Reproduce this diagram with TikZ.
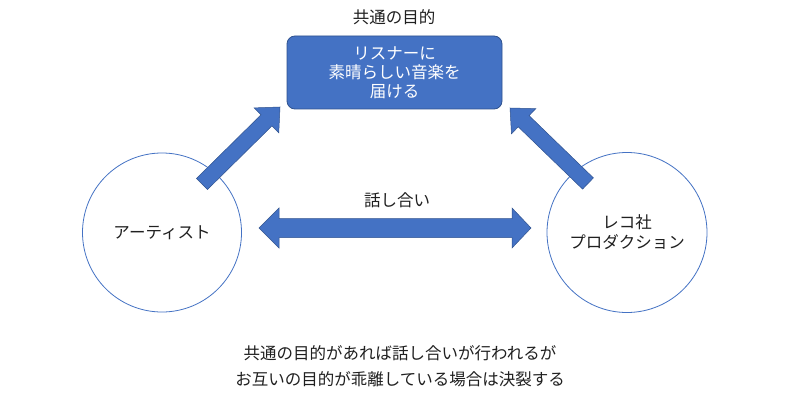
\documentclass[tikz,border=0pt]{standalone}
\usepackage{fontspec}
\setmainfont{Noto Sans CJK JP}
\usetikzlibrary{calc}
\definecolor{fillblue}{HTML}{4472C4}
\definecolor{edgeblue}{HTML}{2F528F}
\definecolor{txt}{HTML}{202020}
\tikzset{
  goalbox/.style={draw=edgeblue, fill=fillblue, line width=0.8pt, rounded corners=8pt,
    minimum width=215pt, minimum height=73pt, inner sep=0pt, text=white, align=center,
    font=\fontsize{16.5}{19}\selectfont},
  party/.style={circle, draw=fillblue, line width=0.8pt, minimum size=159pt, inner sep=0pt,
    text=txt, align=center, font=\fontsize{16.5}{20}\selectfont},
  lbl/.style={text=txt, align=center, inner sep=0pt, font=\fontsize{16.5}{26}\selectfont},
  blockarrow/.style={fill=fillblue, draw=edgeblue, line width=0.5pt, line join=miter}
}
\newcommand{\myblockarrow}[5]{%
  \coordinate (tmpS) at ($(#2)!#5!(#1)$);
  \path[blockarrow] ($(#1)!#3!90:(#2)$) -- ($(tmpS)!#3!-90:(#1)$) -- ($(tmpS)!#4!-90:(#1)$)
    -- (#2) -- ($(tmpS)!#4!90:(#1)$) -- ($(tmpS)!#3!90:(#1)$) -- ($(#1)!#3!-90:(#2)$) -- cycle;
}
\begin{document}
\begin{tikzpicture}[x=1pt,y=-1pt]
\useasboundingbox (0,0) rectangle (800,401);
\fill[white] (0,0) rectangle (800,401);

\node[lbl] (title) at (394,17) {共通の目的};
\node[goalbox] (goal) at (394.5,72.5) {リスナーに\\素晴らしい音楽を\\届ける};

\node[party] (artist) at (162,232.5) {アーティスト};
\node[party, minimum size=160pt] (label) at (627,232.5) {レコ社\\プロダクション};

\node[lbl] (talk) at (397,200) {話し合い};

\node[lbl] (note) at (400,366) {共通の目的があれば話し合いが行われるが\\お互いの目的が乖離している場合は決裂する};

% diagonal block arrows
\coordinate (at) at (202,184);
\coordinate (ap) at (280,107);
\myblockarrow{at}{ap}{7.8pt}{17.5pt}{19pt}
\coordinate (lt) at (588,183.5);
\coordinate (lp) at (510,108);
\myblockarrow{lt}{lp}{7.8pt}{17.5pt}{19pt}

% double arrow
\coordinate (dl) at (259,228);
\coordinate (dr) at (531,228);
\path[blockarrow] (dl) -- ++(20,-20) -- ++(0,10.5) -- ($(dr)+(-19,-9.5)$) -- ++(0,-10.5) -- (dr)
  -- ++(-19,20) -- ++(0,-10.5) -- ($(dl)+(20,9.5)$) -- ++(0,10.5) -- cycle;
\end{tikzpicture}
\end{document}
